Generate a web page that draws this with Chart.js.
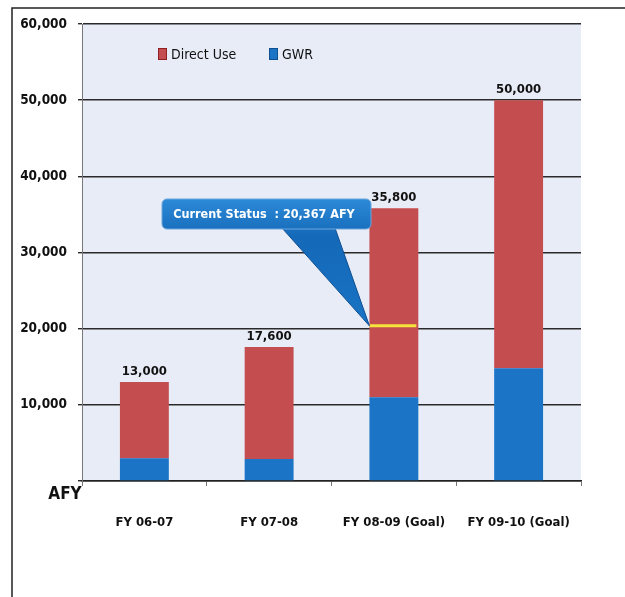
<!DOCTYPE html>
<html>
<head>
<meta charset="utf-8">
<script src="https://cdn.jsdelivr.net/npm/chart.js@4.4.1/dist/chart.umd.min.js"></script>
<style>
  html, body { margin: 0; padding: 0; background: #fff; }
  canvas { display: block; }
</style>
</head>
<body>
<canvas id="afyChart" width="625" height="597"></canvas>
<script>
// recycled water use by fiscal year (AFY)
var categories = ['FY 06-07', 'FY 07-08', 'FY 08-09 (Goal)', 'FY 09-10 (Goal)'];
var gwr = [3000, 2900, 11000, 14800];
var directUse = [10000, 14700, 24800, 35200];
var seriesNames = ['Direct Use', 'GWR'];
var currentStatus = 20367;
var currentIndex = 2;

var FONT = "'DejaVu Sans Condensed', 'Liberation Sans Narrow', sans-serif";
var RED = '#c44d4f';
var BLUE = '#1b74c6';

function fmt(v) { return v.toLocaleString('en-US'); }

var extras = {
  id: 'extras',
  beforeDraw: function(chart) {
    var c = chart.ctx, a = chart.chartArea;
    c.save();
    c.fillStyle = '#e8ecf6';
    c.fillRect(a.left, a.top, a.right - a.left, a.bottom - a.top);
    c.restore();
  },
  afterDatasetsDraw: function(chart) {
    var c = chart.ctx, y = chart.scales.y;
    var top = chart.getDatasetMeta(1);
    c.save();
    // totals above each stack
    c.font = 'bold 13px ' + FONT;
    c.fillStyle = '#111';
    c.textAlign = 'center';
    c.textBaseline = 'bottom';
    top.data.forEach(function(bar, i) {
      var total = gwr[i] + directUse[i];
      c.fillText(fmt(total), bar.x, y.getPixelForValue(total) - 4);
    });
    // current status marker
    var b = top.data[currentIndex];
    var py = y.getPixelForValue(currentStatus);
    c.strokeStyle = '#f4e43c';
    c.lineWidth = 3;
    c.beginPath();
    c.moveTo(b.x - b.width / 2, py);
    c.lineTo(b.x + b.width / 2 - 2, py);
    c.stroke();
    c.restore();
  },
  afterDraw: function(chart) {
    var c = chart.ctx, y = chart.scales.y;
    var b = chart.getDatasetMeta(1).data[currentIndex];
    var tipX = b.x - b.width / 2, tipY = y.getPixelForValue(currentStatus);
    c.save();

    // callout
    var bx = 162, by = 199, bw = 209, bh = 30;
    var g = c.createLinearGradient(0, by, 0, tipY);
    g.addColorStop(0, '#2c8ad8');
    g.addColorStop(0.3, '#1469b8');
    g.addColorStop(1, '#1a73c4');
    c.fillStyle = g;
    c.beginPath();
    c.moveTo(282, by + bh - 1);
    c.lineTo(335, by + bh - 1);
    c.lineTo(tipX, tipY);
    c.closePath();
    c.fill();
    c.strokeStyle = '#0d4f94';
    c.lineWidth = 1;
    c.stroke();
    c.beginPath();
    c.roundRect(bx, by, bw, bh, 5);
    c.fill();
    c.strokeStyle = '#6aa6dd';
    c.stroke();
    c.fillStyle = '#ffffff';
    c.font = 'bold 12.5px ' + FONT;
    c.textAlign = 'center';
    c.textBaseline = 'middle';
    c.fillText('Current Status  : ' + fmt(currentStatus) + ' AFY', 264, by + bh / 2 + 1);

    // legend
    var colors = [RED, BLUE];
    var lx = [158, 269];
    c.font = '14px ' + FONT;
    c.textAlign = 'left';
    seriesNames.forEach(function(name, i) {
      c.fillStyle = colors[i];
      c.fillRect(lx[i], 48, 9, 12);
      c.strokeStyle = i === 0 ? '#8e1f22' : '#0f4f8f';
      c.strokeRect(lx[i] + 0.5, 48.5, 8, 11);
      c.fillStyle = '#111';
      c.fillText(name, lx[i] + 13, 55);
    });

    // unit label
    c.font = 'bold 17px ' + FONT;
    c.fillStyle = '#111';
    c.textAlign = 'center';
    c.fillText('AFY', 65, 495);

    // frame
    c.strokeStyle = '#222';
    c.lineWidth = 1.5;
    c.beginPath();
    c.moveTo(12, 597);
    c.lineTo(12, 8);
    c.lineTo(625, 8);
    c.stroke();
    c.restore();
  }
};

new Chart(document.getElementById('afyChart'), {
  type: 'bar',
  data: {
    labels: categories,
    datasets: [
      { label: seriesNames[1], data: gwr, backgroundColor: BLUE },
      { label: seriesNames[0], data: directUse, backgroundColor: RED }
    ]
  },
  options: {
    responsive: false,
    animation: false,
    layout: { padding: { top: 24, right: 44, left: 0, bottom: 0 } },
    datasets: { bar: { categoryPercentage: 0.8, barPercentage: 0.49 } },
    plugins: { legend: { display: false }, tooltip: { enabled: false } },
    scales: {
      x: {
        stacked: true,
        afterFit: function(s) { s.height = 116; },
        grid: { drawOnChartArea: false, tickLength: 5, color: '#777' },
        border: { color: '#222', width: 1.5 },
        ticks: { padding: 29, color: '#111', font: { family: FONT, size: 13, weight: 'bold' } }
      },
      y: {
        stacked: true,
        min: 0,
        max: 60000,
        afterFit: function(s) { s.width = 82; },
        grid: { color: '#2a2a2a', lineWidth: 1.4, tickLength: 4 },
        border: { color: '#777', width: 1 },
        ticks: {
          stepSize: 10000,
          padding: 11,
          color: '#111',
          font: { family: FONT, size: 13.5, weight: 'bold' },
          callback: function(v) { return v === 0 ? '' : fmt(v); }
        }
      }
    }
  },
  plugins: [extras]
});
</script>
</body>
</html>
